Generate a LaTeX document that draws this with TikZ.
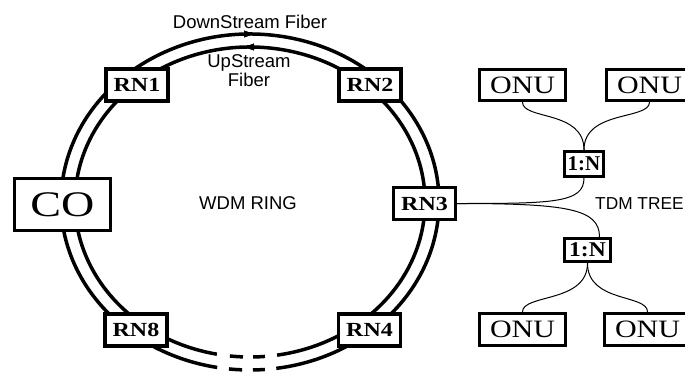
\documentclass[tikz,border=0pt]{standalone}
\usepackage{fontspec}
\setmainfont{Liberation Serif}
\newfontfamily\labelsans{Liberation Sans}
\usetikzlibrary{arrows.meta}
\begin{document}
\begin{tikzpicture}[x=1pt,y=-1pt,
  ring/.style={line width=3.5pt},
  fibre/.style={line width=1pt},
  boxbase/.style={draw, line width=3.3pt, fill=white, inner sep=0pt},
  rnbox/.style={boxbase, minimum width=62pt, minimum height=32pt, font=\bfseries\fontsize{20}{20}\selectfont},
  cobox/.style={boxbase, minimum width=96pt, minimum height=52pt, font=\fontsize{36}{36}\selectfont},
  onubox/.style={boxbase, minimum width=86pt, minimum height=31pt, font=\fontsize{25}{25}\selectfont},
  splitbox/.style={boxbase, minimum width=39pt, minimum height=25pt, font=\bfseries\fontsize{21}{21}\selectfont},
  sanslabel/.style={font=\labelsans\fontsize{18.5}{19}\selectfont, inner sep=0pt},
  dirtip/.style={line width=0.8pt, -{Triangle[length=10pt,width=7pt]}}
]
\clip (0,0) rectangle (685,372);
\fill[white] (0,0) rectangle (685,372);

% WDM ring: outer and inner fibres, broken by dashes at the bottom
\draw[ring] (250,202) ++(100:189 and 168) arc[start angle=100, end angle=442, x radius=189, y radius=168];
\draw[ring] (250,202) ++(96.4:189 and 168) arc[start angle=96.4, end angle=92.4, x radius=189, y radius=168];
\draw[ring] (250,202) ++(89.1:189 and 168) arc[start angle=89.1, end angle=85.5, x radius=189, y radius=168];
\draw[ring] (250,202) ++(100.9:175 and 155) arc[start angle=100.9, end angle=441.1, x radius=175, y radius=155];
\draw[ring] (250,202) ++(96.6:175 and 155) arc[start angle=96.6, end angle=92.3, x radius=175, y radius=155];
\draw[ring] (250,202) ++(89.0:175 and 155) arc[start angle=89.0, end angle=85.1, x radius=175, y radius=155];

% direction marks
\coordinate (dsA) at (242,34);
\coordinate (dsB) at (254,34);
\coordinate (usA) at (256,47);
\coordinate (usB) at (244,47);
\draw[dirtip] (dsA) -- (dsB);
\draw[dirtip] (usA) -- (usB);

% labels
\node[sanslabel] (ds) at (250,22) {DownStream Fiber};
\node[sanslabel, align=center] (us) at (249,71) {UpStream\\Fiber};
\node[sanslabel] (wdm) at (248,203) {WDM RING};
\node[sanslabel, anchor=west, font=\labelsans\fontsize{17.3}{18}\selectfont] (tdm) at (595,203.5) {TDM TREE};

% nodes on the ring
\node[cobox] (CO) at (62.5,204.5) {\scalebox{1.28}[1]{CO}};
\node[rnbox] (RN1) at (137,85) {\scalebox{1.2}[1]{RN1}};
\node[rnbox] (RN2) at (370,85) {\scalebox{1.2}[1]{RN2}};
\node[rnbox] (RN3) at (424.5,203.5) {\scalebox{1.2}[1]{RN3}};
\node[rnbox] (RN4) at (369.5,330) {\scalebox{1.2}[1]{RN4}};
\node[rnbox] (RN8) at (136,330) {\scalebox{1.2}[1]{RN8}};

% TDM tree
\node[splitbox] (S1) at (584,164) {1:N};
\node[splitbox, minimum width=46pt, minimum height=23pt] (S2) at (587.5,250) {\scalebox{1.12}[1]{1:N}};
\node[onubox] (ONU1) at (522.5,85) {\scalebox{1.2}[1]{ONU}};
\node[onubox] (ONU2) at (649.5,85) {\scalebox{1.2}[1]{ONU}};
\node[onubox, minimum height=32pt] (ONU3) at (522.5,329.5) {\scalebox{1.2}[1]{ONU}};
\node[onubox, minimum height=32pt] (ONU4) at (647.5,329.5) {\scalebox{1.2}[1]{ONU}};

\draw[fibre] (RN3.east) .. controls +(95,0) and +(0,25) .. (S1.south);
\draw[fibre] (RN3.east) .. controls +(110,0) and +(0,-28) .. ([xshift=12pt]S2.north);
\draw[fibre] (S1.north) .. controls +(0,-40) and +(0,18) .. (ONU1.south);
\draw[fibre] (S1.north) .. controls +(0,-40) and +(0,18) .. (ONU2.south);
\draw[fibre] (S2.south) .. controls +(0,40) and +(0,-18) .. (ONU3.north);
\draw[fibre] (S2.south) .. controls +(0,40) and +(0,-18) .. (ONU4.north);
\end{tikzpicture}
\end{document}
